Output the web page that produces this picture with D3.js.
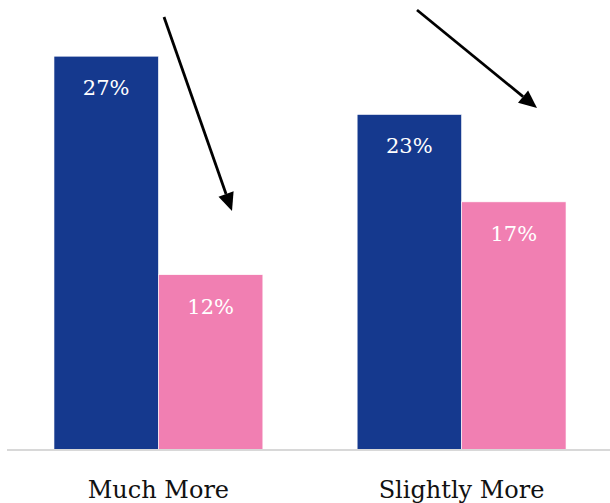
<!DOCTYPE html>
<html>
<head>
<meta charset="utf-8">
<script src="https://cdn.jsdelivr.net/npm/d3@7"></script>
<style>
  html, body { margin: 0; padding: 0; background: #fff; }
  svg { display: block; }
</style>
</head>
<body>
<svg id="chart" width="610" height="503"></svg>
<script>
// Share of respondents by answer, two series per category
const categories = ["Much More", "Slightly More"];
const seriesNames = ["first", "second"];
const firstValues = [27, 23];
const secondValues = [12, 17];
const seriesColors = ["#15398e", "#f17fb2"];

// Downward trend arrows drawn above each group: [x1, y1, x2, y2]
const arrows = [
  [164, 17, 232, 211],
  [417, 10, 537, 108]
];

const W = 610, H = 503;
const baseY = 449.5;

const svg = d3.select("#chart");

const x0 = d3.scaleBand()
  .domain(categories)
  .range([7, 613])
  .paddingInner(0.311)
  .paddingOuter(0.155);

const x1 = d3.scaleBand()
  .domain(seriesNames)
  .range([0, x0.bandwidth()])
  .padding(0);

const y = d3.scaleLinear()
  .domain([0, 30])
  .range([baseY, baseY - 437]);

const rows = categories.map((c, i) => ({
  category: c,
  values: [
    { key: seriesNames[0], value: firstValues[i], color: seriesColors[0] },
    { key: seriesNames[1], value: secondValues[i], color: seriesColors[1] }
  ]
}));

const groups = svg.selectAll("g.group")
  .data(rows)
  .join("g")
  .attr("class", "group")
  .attr("transform", d => `translate(${x0(d.category)},0)`);

groups.selectAll("rect")
  .data(d => d.values)
  .join("rect")
  .attr("x", d => x1(d.key))
  .attr("y", d => y(d.value))
  .attr("width", x1.bandwidth())
  .attr("height", d => y(0) - y(d.value))
  .attr("fill", d => d.color)
  .attr("stroke", "#ffffff")
  .attr("stroke-width", 0.6);

groups.selectAll("text.val")
  .data(d => d.values)
  .join("text")
  .attr("class", "val")
  .attr("x", d => x1(d.key) + x1.bandwidth() / 2)
  .attr("y", d => y(d.value) + 39)
  .attr("text-anchor", "middle")
  .attr("fill", "#ffffff")
  .style("font-family", "'DejaVu Serif', serif")
  .style("font-size", "21px")
  .text(d => d.value + "%");

// Baseline
svg.append("line")
  .attr("x1", 7).attr("x2", W)
  .attr("y1", baseY + 0.5).attr("y2", baseY + 0.5)
  .attr("stroke", "#d8d8d8")
  .attr("stroke-width", 2);

// Category axis labels
const xAxis = d3.axisBottom(x0).tickSize(0).tickPadding(0);
const axisG = svg.append("g")
  .attr("transform", `translate(0,${baseY})`)
  .call(xAxis);
axisG.select(".domain").remove();
axisG.selectAll("text")
  .attr("dy", null)
  .attr("y", 48)
  .attr("fill", "#111")
  .style("font-family", "'DejaVu Serif', serif")
  .style("font-size", "24px");

// Arrows
arrows.forEach(([ax1, ay1, ax2, ay2]) => {
  const ang = Math.atan2(ay2 - ay1, ax2 - ax1);
  const headLen = 18, headHalf = 8;
  const bx = ax2 - headLen * Math.cos(ang);
  const by = ay2 - headLen * Math.sin(ang);
  svg.append("line")
    .attr("x1", ax1).attr("y1", ay1)
    .attr("x2", bx).attr("y2", by)
    .attr("stroke", "#000")
    .attr("stroke-width", 2.8);
  const px = -Math.sin(ang), py = Math.cos(ang);
  svg.append("polygon")
    .attr("points", [
      [ax2, ay2],
      [bx + px * headHalf, by + py * headHalf],
      [bx - px * headHalf, by - py * headHalf]
    ].map(p => p.join(",")).join(" "))
    .attr("fill", "#000");
});
</script>
</body>
</html>
